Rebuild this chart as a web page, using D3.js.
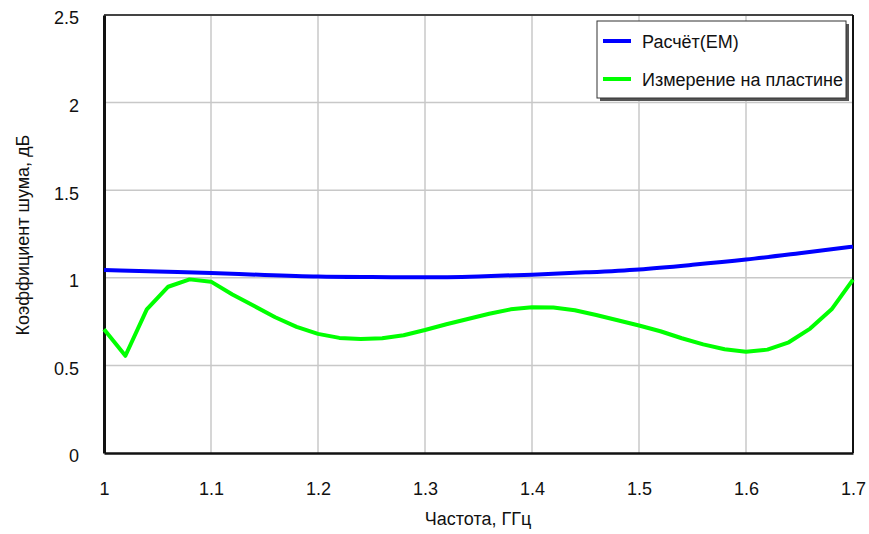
<!DOCTYPE html>
<html><head><meta charset="utf-8">
<script src="https://cdn.jsdelivr.net/npm/d3@7"></script>
<style>body{margin:0;background:#fff}svg{display:block;font-family:"Liberation Sans",Arial,sans-serif}</style>
</head><body><svg id="c" width="869" height="534"></svg>
<script>
const xTicks = [1, 1.1, 1.2, 1.3, 1.4, 1.5, 1.6, 1.7];
const yTicks = [0, 0.5, 1, 1.5, 2, 2.5];
const seriesNames = ["Расчёт(EM)", "Измерение на пластине"];
const calcFreq = [1.0,1.05,1.1,1.15,1.2,1.25,1.3,1.35,1.4,1.45,1.5,1.55,1.6,1.65,1.7];
const calcNF = [1.045,1.036,1.028,1.016,1.007,1.004,1.003,1.008,1.018,1.031,1.048,1.074,1.104,1.14,1.178];
const measFreq = [1.00,1.02,1.04,1.06,1.08,1.10,1.12,1.14,1.16,1.18,1.20,1.22,1.24,1.26,1.28,1.30,1.32,1.34,1.36,1.38,1.40,1.42,1.44,1.46,1.48,1.50,1.52,1.54,1.56,1.58,1.60,1.62,1.64,1.66,1.68,1.70];
const measNF = [0.706,0.555,0.82,0.949,0.991,0.978,0.905,0.84,0.775,0.72,0.68,0.657,0.65,0.655,0.672,0.702,0.735,0.765,0.795,0.82,0.832,0.83,0.815,0.788,0.758,0.728,0.695,0.655,0.62,0.592,0.578,0.59,0.632,0.71,0.82,0.99];

const svg = d3.select("#c");
const L = 104, R = 853, T = 15, B = 453;
const FS = 18;
const x = d3.scaleLinear().domain([1, 1.7]).range([L, R]);
const y = d3.scaleLinear().domain([0, 2.5]).range([B, T]);

// grid
svg.append("g").selectAll("line").data(xTicks.slice(1, -1)).join("line")
  .attr("x1", d => x(d)).attr("x2", d => x(d)).attr("y1", T).attr("y2", B)
  .attr("stroke", "#c8c8c8").attr("stroke-width", 1.5);
svg.append("g").selectAll("line").data(yTicks.slice(1, -1)).join("line")
  .attr("x1", L).attr("x2", R).attr("y1", d => y(d)).attr("y2", d => y(d))
  .attr("stroke", "#c8c8c8").attr("stroke-width", 1.5);

// frame
svg.append("line").attr("x1", L).attr("x2", R).attr("y1", T).attr("y2", T).attr("stroke", "#444").attr("stroke-width", 2);
svg.append("line").attr("x1", R).attr("x2", R).attr("y1", T).attr("y2", B).attr("stroke", "#111").attr("stroke-width", 2);

// axes
const xAxis = d3.axisBottom(x).tickValues(xTicks).tickSize(0).tickPadding(29).tickFormat(d3.format("~g"));
const gx = svg.append("g").attr("transform", `translate(0,${B})`).call(xAxis);
gx.select(".domain").attr("stroke", "#111").attr("stroke-width", 2.5);
gx.selectAll("text").attr("font-size", FS).attr("fill", "#111").attr("font-family", "Liberation Sans, Arial, sans-serif");

const yAxis = d3.axisLeft(y).tickValues(yTicks).tickSize(0).tickPadding(25).tickFormat(d3.format("~g"));
const gy = svg.append("g").attr("transform", `translate(${L},0)`).call(yAxis);
gy.select(".domain").attr("stroke", "#111").attr("stroke-width", 3);
gy.selectAll("text").attr("font-size", FS).attr("fill", "#111").attr("font-family", "Liberation Sans, Arial, sans-serif").attr("dy", "0.36em");
gy.selectAll(".tick").attr("transform", d => `translate(0,${y(d) + 3})`);

// axis titles
svg.append("text").attr("x", 478).attr("y", 525).attr("text-anchor", "middle")
  .attr("font-size", FS).attr("fill", "#111").text("Частота, ГГц");
svg.append("text").attr("transform", `translate(29,${235}) rotate(-90)`).attr("text-anchor", "middle")
  .attr("font-size", FS).attr("fill", "#111").text("Коэффициент шума, дБ");

// lines
const lineGen = d3.line().x(d => x(d[0])).y(d => y(d[1]));
svg.append("path").datum(measFreq.map((f, i) => [f, measNF[i]]))
  .attr("d", lineGen.curve(d3.curveLinear)).attr("fill", "none").attr("stroke", "#00ff00").attr("stroke-width", 4).attr("stroke-linejoin", "round");
svg.append("path").datum(calcFreq.map((f, i) => [f, calcNF[i]]))
  .attr("d", d3.line().x(d => x(d[0])).y(d => y(d[1])).curve(d3.curveMonotoneX)).attr("fill", "none").attr("stroke", "#0000ff").attr("stroke-width", 4);

// legend
const lg = svg.append("g");
lg.append("rect").attr("x", 600).attr("y", 24).attr("width", 249).attr("height", 77).attr("fill", "#555");
lg.append("rect").attr("x", 597).attr("y", 21).attr("width", 249).attr("height", 77).attr("fill", "#fff").attr("stroke", "#333").attr("stroke-width", 1);
const colors = ["#0000ff", "#00ff00"];
seriesNames.forEach((n, i) => {
  const yy = 41 + i * 38;
  lg.append("line").attr("x1", 603).attr("x2", 631).attr("y1", yy).attr("y2", yy).attr("stroke", colors[i]).attr("stroke-width", 4);
  lg.append("text").attr("x", 642).attr("y", yy + 6.5).attr("font-size", FS).attr("fill", "#111").text(n);
});
</script></body></html>
